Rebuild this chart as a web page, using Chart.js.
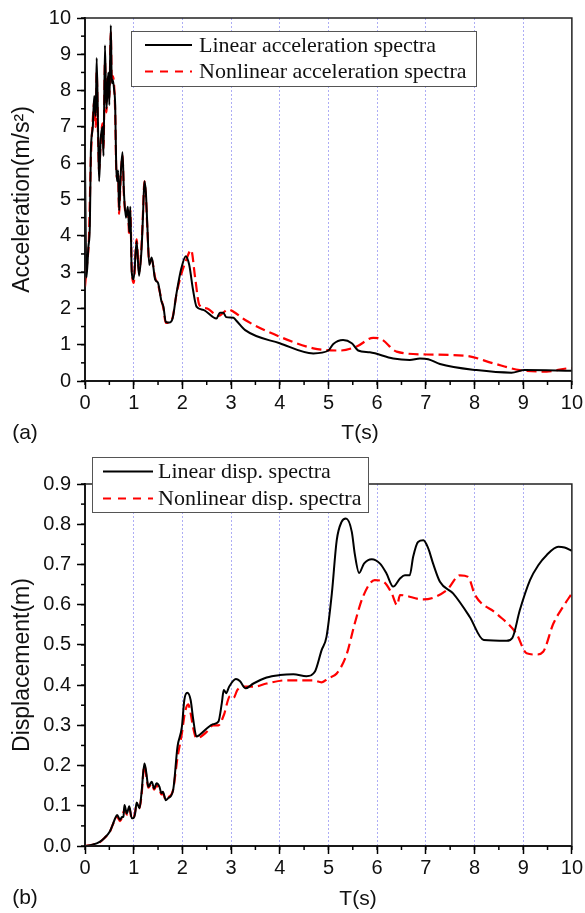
<!DOCTYPE html>
<html>
<head>
<meta charset="utf-8">
<title>Acceleration and displacement spectra</title>
<script src="https://cdn.jsdelivr.net/npm/chart.js@4.4.1/dist/chart.umd.min.js"></script>
<style>
  html, body { margin: 0; padding: 0; background: #fff; }
  body { width: 585px; height: 913px; position: relative; overflow: hidden; }
  canvas { position: absolute; left: 0; }
  #accChart { top: 0; }
  #dispChart { top: 440px; }
</style>
</head>
<body>
<canvas id="accChart" width="585" height="455"></canvas>
<canvas id="dispChart" width="585" height="473"></canvas>
<script>
// ---- (a) acceleration spectra, m/s^2 against period T (s) ----
const accPeriodLinear = [0, 0.03, 0.07, 0.1, 0.12, 0.16, 0.19, 0.22, 0.24, 0.27, 0.29, 0.32, 0.36, 0.38, 0.41, 0.44, 0.46, 0.48, 0.5, 0.53, 0.55, 0.57, 0.6, 0.62, 0.64, 0.66, 0.68, 0.7, 0.73, 0.77, 0.8, 0.84, 0.88, 0.91, 0.93, 0.96, 1.0, 1.06, 1.11, 1.16, 1.19, 1.22, 1.25, 1.28, 1.32, 1.37, 1.44, 1.5, 1.57, 1.61, 1.66, 1.73, 1.8, 1.88, 1.98, 2.07, 2.14, 2.22, 2.29, 2.43, 2.7, 2.77, 2.84, 2.9, 3.05, 3.11, 3.29, 4.0, 4.69, 5.0, 5.1, 5.3, 5.48, 5.61, 5.85, 6.33, 6.67, 6.88, 7.05, 7.29, 8.04, 8.76, 9.03, 10.0];
const accLinear = [5.95, 2.85, 3.7, 4.3, 6.3, 7.0, 7.85, 7.3, 8.9, 6.8, 5.5, 6.6, 7.0, 6.2, 9.25, 7.5, 8.0, 8.5, 7.6, 9.8, 8.2, 8.3, 8.0, 7.6, 6.0, 5.5, 5.8, 4.7, 5.6, 6.3, 5.2, 4.5, 4.8, 4.1, 4.8, 3.0, 2.8, 3.85, 2.9, 3.6, 4.5, 5.5, 5.2, 4.3, 3.2, 3.4, 2.8, 2.7, 2.2, 2.05, 1.63, 1.61, 1.73, 2.42, 3.11, 3.44, 3.2, 2.5, 2.05, 1.96, 1.72, 1.88, 1.88, 1.76, 1.74, 1.66, 1.4, 1.04, 0.76, 0.84, 1.02, 1.13, 1.04, 0.84, 0.79, 0.62, 0.58, 0.62, 0.6, 0.47, 0.3, 0.23, 0.3, 0.28];
const accPeriodNonlinear = [0, 0.04, 0.08, 0.12, 0.16, 0.19, 0.22, 0.24, 0.27, 0.29, 0.32, 0.36, 0.38, 0.41, 0.44, 0.46, 0.48, 0.5, 0.53, 0.55, 0.57, 0.6, 0.62, 0.64, 0.66, 0.68, 0.7, 0.73, 0.77, 0.8, 0.84, 0.88, 0.91, 0.93, 0.96, 1.0, 1.06, 1.11, 1.16, 1.19, 1.22, 1.25, 1.28, 1.32, 1.37, 1.44, 1.5, 1.57, 1.61, 1.66, 1.73, 1.8, 1.88, 1.98, 2.07, 2.18, 2.26, 2.35, 2.5, 2.74, 2.94, 3.05, 3.29, 4.0, 4.69, 5.24, 5.58, 5.92, 6.09, 6.4, 7.02, 7.84, 8.38, 8.93, 9.48, 9.96, 10.0];
const accNonlinear = [2.6, 3.2, 3.9, 6.1, 7.2, 7.7, 7.0, 8.5, 6.6, 5.8, 6.5, 7.1, 6.4, 8.8, 7.4, 8.1, 8.4, 7.8, 9.6, 8.2, 8.4, 8.1, 7.4, 5.9, 5.6, 5.7, 4.6, 5.5, 6.2, 5.1, 4.6, 4.7, 4.0, 4.7, 3.1, 2.7, 3.9, 3.0, 3.7, 4.6, 5.5, 5.1, 4.2, 3.3, 3.35, 2.85, 2.65, 2.25, 2.0, 1.6, 1.62, 1.75, 2.4, 2.95, 3.3, 3.61, 2.87, 2.09, 2.0, 1.79, 1.97, 1.91, 1.68, 1.22, 0.9, 0.84, 0.95, 1.19, 1.15, 0.81, 0.73, 0.69, 0.49, 0.3, 0.26, 0.35, 0.35];

// ---- (b) displacement spectra, m against period T (s) ----
const dispPeriodLinear = [0, 0.15, 0.31, 0.4, 0.51, 0.56, 0.62, 0.66, 0.72, 0.76, 0.79, 0.81, 0.86, 0.91, 0.96, 1.0, 1.03, 1.06, 1.12, 1.16, 1.22, 1.25, 1.27, 1.3, 1.37, 1.42, 1.47, 1.53, 1.57, 1.6, 1.66, 1.7, 1.81, 1.9, 1.99, 2.04, 2.1, 2.17, 2.22, 2.29, 2.35, 2.5, 2.63, 2.74, 2.81, 2.85, 2.9, 2.96, 3.1, 3.18, 3.3, 3.46, 3.73, 4.0, 4.28, 4.55, 4.72, 4.86, 4.96, 5.07, 5.17, 5.27, 5.36, 5.48, 5.54, 5.63, 5.73, 5.89, 6.06, 6.19, 6.33, 6.47, 6.57, 6.67, 6.74, 6.84, 6.95, 7.05, 7.15, 7.29, 7.56, 7.9, 8.19, 8.66, 8.78, 8.93, 9.14, 9.31, 9.48, 9.72, 9.85, 10.0];
const dispLinear = [0, 0.003, 0.011, 0.02, 0.036, 0.05, 0.069, 0.077, 0.065, 0.072, 0.073, 0.102, 0.081, 0.099, 0.069, 0.07, 0.081, 0.108, 0.094, 0.131, 0.205, 0.19, 0.172, 0.147, 0.16, 0.143, 0.156, 0.147, 0.131, 0.135, 0.114, 0.118, 0.139, 0.247, 0.296, 0.363, 0.381, 0.363, 0.317, 0.272, 0.276, 0.292, 0.303, 0.309, 0.355, 0.388, 0.38, 0.396, 0.415, 0.41, 0.392, 0.404, 0.419, 0.425, 0.427, 0.422, 0.433, 0.487, 0.52, 0.628, 0.76, 0.806, 0.814, 0.781, 0.727, 0.679, 0.702, 0.713, 0.702, 0.678, 0.645, 0.665, 0.673, 0.673, 0.719, 0.756, 0.76, 0.74, 0.702, 0.657, 0.628, 0.57, 0.512, 0.51, 0.518, 0.586, 0.661, 0.698, 0.723, 0.744, 0.742, 0.734];
const dispPeriodNonlinear = [0, 0.15, 0.31, 0.4, 0.51, 0.56, 0.62, 0.66, 0.72, 0.76, 0.81, 0.86, 0.91, 0.96, 1.0, 1.06, 1.12, 1.16, 1.22, 1.27, 1.3, 1.37, 1.42, 1.47, 1.53, 1.57, 1.6, 1.66, 1.7, 1.81, 1.9, 1.99, 2.05, 2.12, 2.17, 2.22, 2.29, 2.35, 2.5, 2.63, 2.74, 2.85, 2.98, 3.05, 3.13, 3.25, 3.46, 3.73, 4.14, 4.68, 4.86, 5.0, 5.17, 5.37, 5.54, 5.71, 5.95, 6.13, 6.3, 6.41, 6.47, 6.95, 7.43, 7.7, 7.87, 8.01, 8.45, 8.86, 9.07, 9.27, 9.41, 9.62, 9.82, 10.0];
const dispNonlinear = [0, 0.003, 0.01, 0.02, 0.035, 0.05, 0.066, 0.072, 0.062, 0.07, 0.09, 0.078, 0.094, 0.068, 0.07, 0.1, 0.094, 0.125, 0.2, 0.165, 0.145, 0.155, 0.14, 0.15, 0.14, 0.128, 0.13, 0.115, 0.12, 0.14, 0.22, 0.28, 0.33, 0.352, 0.33, 0.295, 0.268, 0.27, 0.284, 0.3, 0.3, 0.325, 0.373, 0.368, 0.388, 0.396, 0.396, 0.404, 0.412, 0.412, 0.407, 0.417, 0.429, 0.475, 0.553, 0.62, 0.661, 0.657, 0.628, 0.599, 0.624, 0.613, 0.636, 0.673, 0.669, 0.624, 0.578, 0.528, 0.479, 0.476, 0.483, 0.553, 0.595, 0.628];

// ---- axis tick values ----
const periodTicks = [0, 1, 2, 3, 4, 5, 6, 7, 8, 9, 10];
const accTicks = [0, 1, 2, 3, 4, 5, 6, 7, 8, 9, 10];
const dispTicks = [0, 0.1, 0.2, 0.3, 0.4, 0.5, 0.6, 0.7, 0.8, 0.9];

const seriesNames = {
  accLinear: 'Linear acceleration spectra',
  accNonlinear: 'Nonlinear acceleration spectra',
  dispLinear: 'Linear disp. spectra',
  dispNonlinear: 'Nonlinear disp. spectra'
};

const SANS = '"Liberation Sans", Arial, sans-serif';
const SERIF = '"Liberation Serif", "Times New Roman", serif';

function pairs(xs, ys) {
  return xs.map((x, i) => ({ x: x, y: ys[i] }));
}

function lineSet(label, xs, ys, solid) {
  return {
    label: label,
    data: pairs(xs, ys),
    borderColor: solid ? '#000000' : '#ff0000',
    borderWidth: solid ? 2 : 2.2,
    borderDash: solid ? [] : [10, 5],
    pointRadius: 0,
    tension: 0,
    cubicInterpolationMode: 'monotone',
    fill: false
  };
}

// Short outward ticks halfway between the labelled ones
const minorTicks = {
  id: 'minorTicks',
  afterDraw(chart, args, opts) {
    const { ctx, chartArea: a, scales } = chart;
    ctx.save();
    ctx.strokeStyle = '#000';
    ctx.lineWidth = 1.5;
    const xs = scales.x, ys = scales.y;
    const nx = Math.round((xs.max - xs.min) / opts.xStep);
    for (let i = 0; i <= nx; i++) {
      const px = xs.getPixelForValue(xs.min + i * opts.xStep);
      ctx.beginPath();
      ctx.moveTo(px, a.bottom);
      ctx.lineTo(px, a.bottom + opts.len);
      ctx.stroke();
    }
    const ny = Math.round((ys.max - ys.min) / opts.yStep);
    for (let i = 0; i <= ny; i++) {
      const py = ys.getPixelForValue(ys.min + i * opts.yStep);
      ctx.beginPath();
      ctx.moveTo(a.left, py);
      ctx.lineTo(a.left - opts.len, py);
      ctx.stroke();
    }
    ctx.restore();
  }
};

// Closed frame around the plotting area
const frameBox = {
  id: 'frameBox',
  afterDatasetsDraw(chart) {
    const { ctx, chartArea: a } = chart;
    ctx.save();
    ctx.strokeStyle = '#222';
    ctx.lineWidth = 1.5;
    ctx.strokeRect(a.left, a.top, a.right - a.left, a.bottom - a.top);
    ctx.restore();
  }
};

// Boxed legend built from the datasets
const boxLegend = {
  id: 'boxLegend',
  afterDraw(chart, args, o) {
    const ctx = chart.ctx;
    ctx.save();
    ctx.fillStyle = '#fff';
    ctx.fillRect(o.x, o.y, o.w, o.h);
    ctx.strokeStyle = '#555';
    ctx.lineWidth = 1;
    ctx.strokeRect(o.x + 0.5, o.y + 0.5, o.w, o.h);
    ctx.font = o.font;
    ctx.textBaseline = 'middle';
    ctx.textAlign = 'left';
    chart.data.datasets.forEach((ds, i) => {
      const ry = o.y + o.firstRow + i * o.rowGap;
      ctx.strokeStyle = ds.borderColor;
      ctx.lineWidth = ds.borderWidth;
      ctx.setLineDash(ds.borderDash && ds.borderDash.length ? [8, 7] : []);
      ctx.beginPath();
      ctx.moveTo(o.x + o.lineStart, ry);
      ctx.lineTo(o.x + o.lineStart + o.lineLen, ry);
      ctx.stroke();
      ctx.setLineDash([]);
      ctx.fillStyle = '#111';
      ctx.fillText(ds.label, o.x + o.textStart, ry + 1);
    });
    ctx.restore();
  }
};

// Free captions: period axis title and panel tag
const captions = {
  id: 'captions',
  afterDraw(chart, args, o) {
    const ctx = chart.ctx;
    ctx.save();
    ctx.fillStyle = '#111';
    ctx.textAlign = 'center';
    ctx.textBaseline = 'middle';
    o.items.forEach(t => {
      ctx.font = t.font;
      ctx.fillText(t.text, t.x, t.y);
    });
    ctx.restore();
  }
};

function spectrumOptions(cfg) {
  return {
    responsive: false,
    maintainAspectRatio: false,
    animation: false,
    events: [],
    layout: { padding: { top: cfg.padTop, right: 13, left: 0, bottom: 0 } },
    scales: {
      x: {
        type: 'linear',
        min: 0,
        max: 10,
        afterFit: s => { s.height = cfg.xHeight; },
        afterBuildTicks: s => { s.ticks = periodTicks.map(v => ({ value: v })); },
        ticks: {
          color: '#111',
          font: { family: SANS, size: 20 },
          padding: 2,
          maxRotation: 0,
          autoSkip: false,
          callback: v => String(v)
        },
        grid: {
          color: c => (c.tick && c.tick.value > 0 && c.tick.value < 10) ? '#adadf5' : 'rgba(0,0,0,0)',
          lineWidth: 1,
          drawTicks: true,
          tickLength: 8,
          tickColor: '#000',
          tickWidth: 1.5
        },
        border: { display: true, color: '#000', width: 2, dash: [2, 2] }
      },
      y: {
        type: 'linear',
        min: cfg.yMin,
        max: cfg.yMax,
        afterFit: s => { s.width = 85; },
        afterBuildTicks: s => { s.ticks = cfg.yTicks.map(v => ({ value: v })); },
        ticks: {
          color: '#111',
          font: { family: SANS, size: 20 },
          padding: 6,
          autoSkip: false,
          callback: cfg.yFormat
        },
        grid: {
          drawOnChartArea: false,
          drawTicks: true,
          tickLength: 8,
          tickColor: '#000',
          tickWidth: 1.5
        },
        border: { display: true, color: '#000', width: 2 },
        title: {
          display: true,
          text: cfg.yTitle,
          color: '#111',
          font: { family: SANS, size: 23 },
          padding: { top: 9, bottom: 0 }
        }
      }
    },
    plugins: {
      legend: { display: false },
      tooltip: { enabled: false },
      minorTicks: { xStep: 0.5, yStep: cfg.yMinor, len: 4 },
      boxLegend: cfg.legend,
      captions: { items: cfg.captions }
    }
  };
}

new Chart(document.getElementById('accChart'), {
  type: 'line',
  data: {
    datasets: [
      lineSet(seriesNames.accLinear, accPeriodLinear, accLinear, true),
      lineSet(seriesNames.accNonlinear, accPeriodNonlinear, accNonlinear, false)
    ]
  },
  options: spectrumOptions({
    padTop: 18,
    xHeight: 74,
    yMin: 0,
    yMax: 10,
    yTicks: accTicks,
    yMinor: 0.5,
    yFormat: v => String(v),
    yTitle: 'Acceleration(m/s\u00B2)',
    legend: { x: 131, y: 31, w: 345, h: 55, firstRow: 14, rowGap: 26.5, lineStart: 14, lineLen: 47, textStart: 68, font: '22px ' + SERIF },
    captions: [
      { text: 'T(s)', x: 360, y: 433, font: '21px ' + SANS },
      { text: '(a)', x: 25, y: 433, font: '21px ' + SANS }
    ]
  }),
  plugins: [minorTicks, frameBox, boxLegend, captions]
});

new Chart(document.getElementById('dispChart'), {
  type: 'line',
  data: {
    datasets: [
      lineSet(seriesNames.dispLinear, dispPeriodLinear, dispLinear, true),
      lineSet(seriesNames.dispNonlinear, dispPeriodNonlinear, dispNonlinear, false)
    ]
  },
  options: spectrumOptions({
    padTop: 44,
    xHeight: 67,
    yMin: 0,
    yMax: 0.9,
    yTicks: dispTicks,
    yMinor: 0.05,
    yFormat: v => Number(v).toFixed(1),
    yTitle: 'Displacement(m)',
    legend: { x: 92, y: 17, w: 276, h: 55, firstRow: 14.5, rowGap: 27, lineStart: 11, lineLen: 50, textStart: 66, font: '22px ' + SERIF },
    captions: [
      { text: 'T(s)', x: 358, y: 459, font: '21px ' + SANS },
      { text: '(b)', x: 25, y: 458, font: '21px ' + SANS }
    ]
  }),
  plugins: [minorTicks, frameBox, boxLegend, captions]
});
</script>
</body>
</html>
